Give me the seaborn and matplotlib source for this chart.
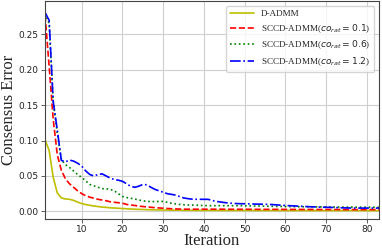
import numpy as np
import pandas as pd
import matplotlib
matplotlib.use("Agg")
import matplotlib.pyplot as plt
import seaborn as sns

# iterations
iters = list(range(1, 84))

d_admm = [0.101, 0.086, 0.048, 0.026, 0.019, 0.0175, 0.017, 0.0155, 0.013, 0.011,
          0.0095, 0.0085, 0.0075, 0.0068, 0.006, 0.0056, 0.005, 0.0047, 0.0043, 0.004,
          0.0036, 0.0033, 0.003, 0.0028, 0.0026, 0.0024, 0.0022, 0.0021, 0.002, 0.0019,
          0.0018, 0.0017, 0.0016, 0.0016, 0.0015, 0.0015, 0.0014, 0.0014, 0.0013, 0.0013,
          0.0013, 0.0013, 0.0013, 0.0012, 0.0012, 0.0012, 0.0012, 0.0012, 0.0012, 0.0012,
          0.0012, 0.0012, 0.0011, 0.0011, 0.0011, 0.0011, 0.0011, 0.0011, 0.0011, 0.0011,
          0.0011, 0.0011, 0.0011, 0.0011, 0.0011, 0.001, 0.001, 0.001, 0.001, 0.001,
          0.001, 0.001, 0.001, 0.001, 0.001, 0.001, 0.001, 0.001, 0.001, 0.001,
          0.001, 0.001, 0.001]

sccd_01 = [0.277, 0.205, 0.13, 0.08, 0.058, 0.046, 0.039, 0.034, 0.029, 0.025,
           0.022, 0.02, 0.0185, 0.017, 0.016, 0.015, 0.0135, 0.0128, 0.0122, 0.0115,
           0.0098, 0.009, 0.0083, 0.0075, 0.0068, 0.0062, 0.0057, 0.0052, 0.0048, 0.0044,
           0.004, 0.0037, 0.0034, 0.0032, 0.003, 0.003, 0.003, 0.003, 0.003, 0.003,
           0.003, 0.003, 0.003, 0.003, 0.003, 0.0029, 0.0029, 0.0029, 0.0029, 0.0029,
           0.0029, 0.0029, 0.0028, 0.0028, 0.0028, 0.0028, 0.0028, 0.0028, 0.0028, 0.0027,
           0.0027, 0.0027, 0.0027, 0.0027, 0.0027, 0.0027, 0.0026, 0.0026, 0.0026, 0.0026,
           0.0026, 0.0026, 0.0026, 0.0026, 0.0025, 0.0025, 0.0025, 0.0025, 0.0025, 0.0025,
           0.0025, 0.0025, 0.0025]

sccd_06 = [0.28, 0.265, 0.155, 0.11, 0.073, 0.066, 0.062, 0.057, 0.052, 0.048,
           0.043, 0.038, 0.036, 0.034, 0.032, 0.032, 0.031, 0.029, 0.025, 0.021,
           0.0195, 0.0185, 0.0175, 0.016, 0.015, 0.014, 0.0138, 0.0138, 0.014, 0.014,
           0.0128, 0.0115, 0.0105, 0.0098, 0.0093, 0.009, 0.0089, 0.0087, 0.0085, 0.0082,
           0.008, 0.008, 0.008, 0.008, 0.008, 0.008, 0.008, 0.008, 0.008, 0.0078,
           0.0077, 0.0076, 0.0075, 0.0074, 0.0073, 0.0072, 0.0071, 0.007, 0.0069, 0.0068,
           0.0067, 0.0066, 0.0065, 0.0065, 0.0065, 0.0064, 0.0064, 0.0063, 0.0063, 0.0062,
           0.0062, 0.0061, 0.0061, 0.006, 0.006, 0.006, 0.0059, 0.0059, 0.0059, 0.0058,
           0.0058, 0.0058, 0.0058]

sccd_12 = [0.281, 0.27, 0.155, 0.115, 0.072, 0.07, 0.0725, 0.071, 0.068, 0.064,
           0.057, 0.052, 0.05, 0.052, 0.053, 0.05, 0.047, 0.045, 0.044, 0.0425,
           0.039, 0.0355, 0.034, 0.0355, 0.038, 0.0375, 0.034, 0.031, 0.029, 0.027,
           0.025, 0.024, 0.023, 0.021, 0.019, 0.018, 0.0173, 0.017, 0.017, 0.017,
           0.017, 0.0155, 0.014, 0.0133, 0.0125, 0.0118, 0.0113, 0.011, 0.0108, 0.0107,
           0.0106, 0.0104, 0.0102, 0.0101, 0.01, 0.0098, 0.0095, 0.0091, 0.0087, 0.0083,
           0.008, 0.0077, 0.0074, 0.0071, 0.0068, 0.0065, 0.0063, 0.0061, 0.0059, 0.0057,
           0.0056, 0.0054, 0.0052, 0.005, 0.0048, 0.0047, 0.0046, 0.0046, 0.0046, 0.0046,
           0.0046, 0.0046, 0.0046]

labels = ["D-ADMM",
          r"SCCD-ADMM($co_{rat}=0.1$)",
          r"SCCD-ADMM($co_{rat}=0.6$)",
          r"SCCD-ADMM($co_{rat}=1.2$)"]
series = [d_admm, sccd_01, sccd_06, sccd_12]
colors = ["#bfbf00", "red", "green", "blue"]
styles = ["-", "--", ":", "-."]

sns.set_style("ticks")
plt.rcParams["font.family"] = ["DejaVu Sans"]

df = pd.DataFrame({lab: vals for lab, vals in zip(labels, series)}, index=iters)

fig, ax = plt.subplots(figsize=(3.82, 2.49), dpi=100)
fig.subplots_adjust(left=0.118, right=0.992, top=0.995, bottom=0.12)

for lab, c, ls in zip(labels, colors, styles):
    sns.lineplot(x=df.index, y=df[lab], ax=ax, color=c, linestyle=ls,
                 linewidth=1.2, label=lab)

ax.grid(True, color="#cfcfcf", linewidth=0.8)
ax.set_xlim(1, 83)
ax.set_ylim(-0.011, 0.297)
ax.set_xticks([10, 20, 30, 40, 50, 60, 70, 80])
ax.set_yticks([0.0, 0.05, 0.10, 0.15, 0.20, 0.25])
ax.tick_params(labelsize=6.5, length=3, width=0.6, color="#444444", pad=2,
               labelcolor="#222222")
ax.tick_params(axis="x", pad=1.5)
for s in ax.spines.values():
    s.set_color("#444444")
    s.set_linewidth(0.8)

ax.set_xlabel("Iteration", family="Liberation Serif", fontsize=12, labelpad=-1)
ax.set_ylabel("Consensus Error", family="Liberation Serif", fontsize=12, labelpad=1)

leg = ax.legend(loc="upper right", prop={"family": "Liberation Serif", "size": 6.6},
                handlelength=2.6, labelspacing=0.45, borderaxespad=0.5,
                framealpha=0.8, edgecolor="#cccccc")

fig.savefig("out.png", dpi=100)
